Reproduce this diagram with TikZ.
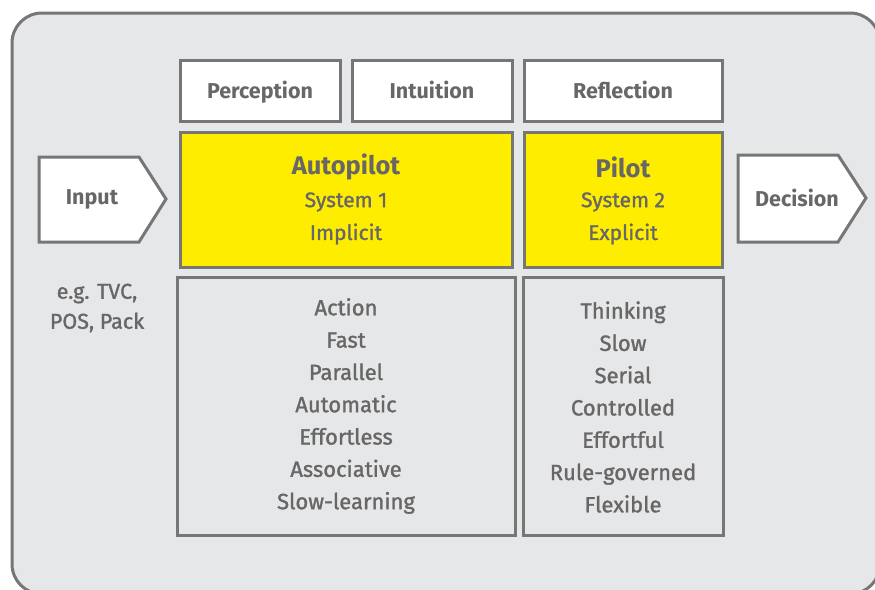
\documentclass[tikz,border=0pt]{standalone}
\usepackage{fontspec}
\setmainfont{Fira Sans}
\newfontfamily\medfont{Fira Sans}[FakeBold=1.3]
\definecolor{bgfill}{HTML}{E6E7E8}
\definecolor{edge}{HTML}{767676}
\definecolor{txt}{HTML}{676767}
\definecolor{ylw}{HTML}{FFED00}
\tikzset{
  every node/.style={text=txt},
  box/.style={draw=edge, line width=3pt, rectangle, inner sep=0pt},
  labelbox/.style={box, fill=white, minimum height=61pt, text height=16pt, text depth=0pt, font=\fontsize{21.5}{24}\selectfont\bfseries},
  sysbox/.style={box, fill=ylw, minimum height=135pt},
  listbox/.style={box, fill=bgfill, minimum height=258pt},
  listtext/.style={align=center, font=\medfont\fontsize{22}{32.3}\selectfont},
  systext/.style={font=\medfont\fontsize{21}{24}\selectfont},
  systitle/.style={font=\fontsize{25.5}{28}\selectfont\bfseries},
  arrowshape/.style={draw=edge, line width=3pt, fill=white, line join=miter},
  arrowtext/.style={font=\fontsize{21.5}{24}\selectfont\bfseries}
}
\begin{document}
\begin{tikzpicture}[x=1pt,y=-1pt]
\useasboundingbox (0,0) rectangle (875,589);
\fill[white] (0,0) rectangle (875,589);
\draw[edge, line width=3pt, fill=bgfill, rounded corners=30pt] (12,13) rectangle (880,594);

% top labels
\node[labelbox, minimum width=160pt] (perc) at (260,90.5) {Perception};
\node[labelbox, minimum width=160pt] (intu) at (432,90.5) {Intuition};
\node[labelbox, minimum width=198pt] (refl) at (623,90.5) {Reflection};

% yellow systems
\node[sysbox, minimum width=332pt] (auto) at (346,199.5) {};
\node[sysbox, minimum width=198pt] (pilot) at (623,199.5) {};
\node[systitle] (autot) at (346,167) {Autopilot};
\node[systext] (auto1) at (346,202) {System 1};
\node[systext] (auto2) at (346,234) {Implicit};
\node[systitle] (pilott) at (623,167) {Pilot};
\node[systext] (pilot1) at (623,202) {System 2};
\node[systext] (pilot2) at (623,234) {Explicit};

% lists
\node[listbox, minimum width=338pt] (llist) at (346,406) {};
\node[listbox, minimum width=200pt] (rlist) at (623,406) {};
\node[listtext] (ltext) at (346,406) {Action\\Fast\\Parallel\\Automatic\\Effortless\\Associative\\Slow-learning};
\node[listtext] (rtext) at (623,407) {Thinking\\Slow\\Serial\\Controlled\\Effortful\\Rule-governed\\Flexible};

% input arrow
\draw[arrowshape] (39,157) -- (139,157) -- (166,199) -- (139,242) -- (39,242) -- cycle;
\node[arrowtext] (input) at (92,199) {Input};
\node[align=center, font=\medfont\fontsize{21.5}{30}\selectfont] (eg) at (97,308) {e.g. TVC,\\POS, Pack};

% decision arrow
\draw[arrowshape] (738,155) -- (838,155) -- (866,198) -- (838,242) -- (738,242) -- cycle;
\node[arrowtext] (dec) at (797,198) {Decision};
\end{tikzpicture}
\end{document}
